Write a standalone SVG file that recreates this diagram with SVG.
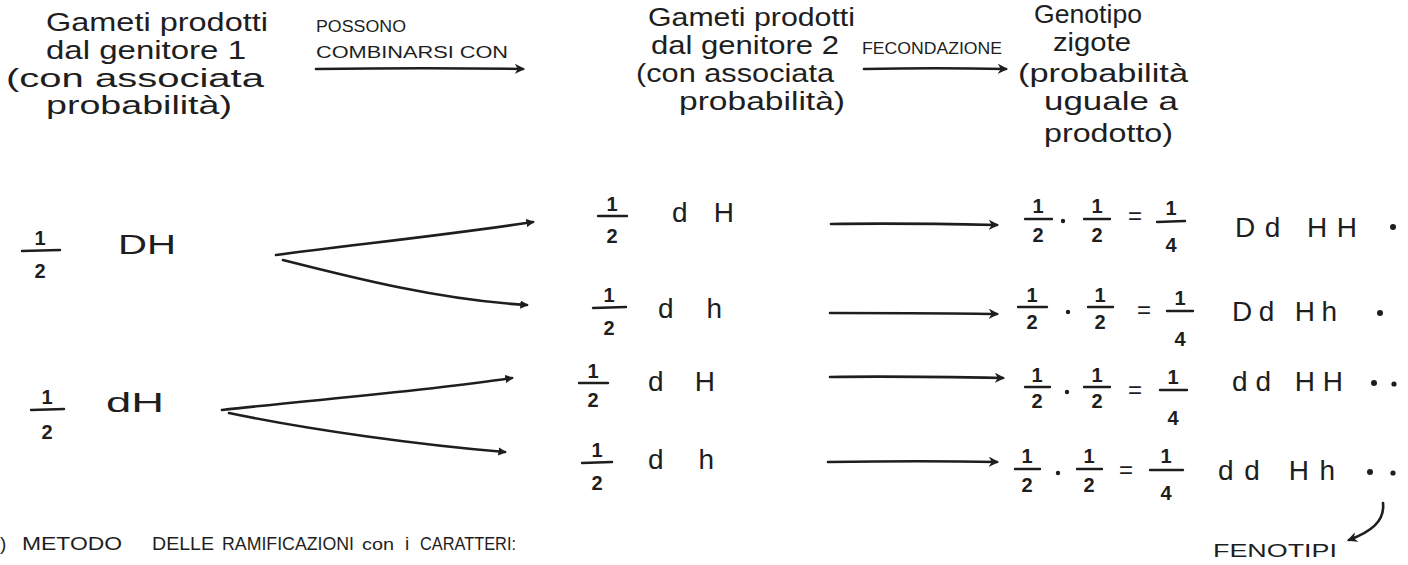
<svg xmlns="http://www.w3.org/2000/svg" width="1408" height="565" viewBox="0 0 1408 565">
<defs>
<style>
.t{font-family:"Liberation Sans",Arial,sans-serif;fill:#1e1e1e}
.h{font-size:25px}
.c{font-size:16px}
.g{font-size:28px}
.f{font-size:19px}
.n{font-size:20px;text-anchor:middle;font-weight:bold}
.eq{font-size:24px;text-anchor:middle}
.bar{stroke:#1e1e1e;stroke-width:2.4;stroke-linecap:round}
.con{fill:none;stroke:#1e1e1e;stroke-width:2.6;stroke-linecap:round}
</style>
<marker id="ah" viewBox="0 0 10 10" refX="8" refY="5" markerWidth="4" markerHeight="4" orient="auto" markerUnits="strokeWidth">
<path d="M0,0 L10,5 L0,10 L3,5 Z" fill="#1e1e1e"/>
</marker>
<marker id="tip" viewBox="0 0 10 10" refX="8" refY="5" markerWidth="3.2" markerHeight="3.2" orient="auto" markerUnits="strokeWidth">
<path d="M0,0 L10,5 L0,10 Z" fill="#1e1e1e"/>
</marker>
</defs>
<rect width="1408" height="565" fill="#ffffff"/>

<g id="header-genitore1" class="t h">
<text x="46" y="31" textLength="222" lengthAdjust="spacingAndGlyphs">Gameti prodotti</text>
<text x="46" y="59" textLength="200" lengthAdjust="spacingAndGlyphs">dal genitore 1</text>
<text x="6" y="87" textLength="258" lengthAdjust="spacingAndGlyphs">(con associata</text>
<text x="46" y="114" textLength="186" lengthAdjust="spacingAndGlyphs">probabilità)</text>
</g>

<g id="label-combinarsi" class="t c">
<text x="316" y="32" textLength="90" lengthAdjust="spacingAndGlyphs">POSSONO</text>
<text x="316" y="58" textLength="192" lengthAdjust="spacingAndGlyphs">COMBINARSI CON</text>
</g>

<g id="header-genitore2" class="t h">
<text x="648" y="26" textLength="207" lengthAdjust="spacingAndGlyphs">Gameti prodotti</text>
<text x="651" y="54" textLength="188" lengthAdjust="spacingAndGlyphs">dal genitore 2</text>
<text x="636" y="82" textLength="198" lengthAdjust="spacingAndGlyphs">(con associata</text>
<text x="679" y="110" textLength="166" lengthAdjust="spacingAndGlyphs">probabilità)</text>
</g>

<g id="label-fecondazione" class="t c">
<text x="862" y="54" textLength="140" lengthAdjust="spacingAndGlyphs">FECONDAZIONE</text>
</g>

<g id="header-zigote" class="t h">
<text x="1034" y="23" textLength="108" lengthAdjust="spacingAndGlyphs">Genotipo</text>
<text x="1053" y="51" textLength="78" lengthAdjust="spacingAndGlyphs">zigote</text>
<text x="1018" y="82" textLength="170" lengthAdjust="spacingAndGlyphs">(probabilità</text>
<text x="1044" y="110" textLength="134" lengthAdjust="spacingAndGlyphs">uguale a</text>
<text x="1044" y="142" textLength="129" lengthAdjust="spacingAndGlyphs">prodotto)</text>
</g>

<g id="gamete1-DH">
<text class="t n" x="40" y="245">1</text><line class="bar" x1="22" y1="251" x2="60" y2="250"/><text class="t n" x="40" y="278">2</text>
<text class="t g" x="118" y="254" textLength="58" lengthAdjust="spacingAndGlyphs">DH</text>
</g>
<g id="gamete1-dH">
<text class="t n" x="47" y="404">1</text><line class="bar" x1="31" y1="410" x2="64" y2="409"/><text class="t n" x="47" y="439">2</text>
<text class="t g" x="106" y="412" textLength="58" lengthAdjust="spacingAndGlyphs">dH</text>
</g>

<g id="gamete2-row1">
<text class="t n" x="612" y="211">1</text><line class="bar" x1="598" y1="216" x2="627" y2="216"/><text class="t n" x="612" y="243">2</text>
<text class="t g" x="672" y="222" textLength="62">d H</text>
</g>
<g id="gamete2-row2">
<text class="t n" x="609" y="302">1</text><line class="bar" x1="593" y1="308" x2="626" y2="307"/><text class="t n" x="609" y="335">2</text>
<text class="t g" x="658" y="318" textLength="64">d h</text>
</g>
<g id="gamete2-row3">
<text class="t n" x="593" y="378">1</text><line class="bar" x1="579" y1="383" x2="608" y2="383"/><text class="t n" x="593" y="407">2</text>
<text class="t g" x="648" y="391" textLength="67">d H</text>
</g>
<g id="gamete2-row4">
<text class="t n" x="597" y="457">1</text><line class="bar" x1="582" y1="463" x2="612" y2="462"/><text class="t n" x="597" y="490">2</text>
<text class="t g" x="648" y="469" textLength="66">d h</text>
</g>

<g id="zigote-row1">
<text class="t n" x="1038" y="213">1</text><line class="bar" x1="1025" y1="219" x2="1052" y2="219"/><text class="t n" x="1038" y="242">2</text>
<circle cx="1063" cy="221" r="2.2" fill="#1e1e1e"/>
<text class="t n" x="1097" y="213">1</text><line class="bar" x1="1084" y1="219" x2="1110" y2="219"/><text class="t n" x="1097" y="242">2</text>
<text class="t eq" x="1135" y="224">=</text>
<text class="t n" x="1171" y="215">1</text><line class="bar" x1="1157" y1="222" x2="1185" y2="221"/><text class="t n" x="1171" y="252">4</text>
<text class="t g" x="1235" y="237" textLength="122">Dd HH</text>
<circle cx="1393" cy="227" r="3" fill="#1e1e1e"/>
</g>
<g id="zigote-row2">
<text class="t n" x="1032" y="302">1</text><line class="bar" x1="1018" y1="307" x2="1047" y2="307"/><text class="t n" x="1032" y="329">2</text>
<circle cx="1068" cy="312" r="2.2" fill="#1e1e1e"/>
<text class="t n" x="1100" y="302">1</text><line class="bar" x1="1088" y1="307" x2="1113" y2="307"/><text class="t n" x="1100" y="329">2</text>
<text class="t eq" x="1144" y="318">=</text>
<text class="t n" x="1180" y="305">1</text><line class="bar" x1="1167" y1="311" x2="1193" y2="311"/><text class="t n" x="1180" y="346">4</text>
<text class="t g" x="1232" y="321" textLength="105">Dd Hh</text>
<circle cx="1380" cy="313" r="3" fill="#1e1e1e"/>
</g>
<g id="zigote-row3">
<text class="t n" x="1037" y="382">1</text><line class="bar" x1="1025" y1="387" x2="1050" y2="387"/><text class="t n" x="1037" y="408">2</text>
<circle cx="1067" cy="392" r="2.2" fill="#1e1e1e"/>
<text class="t n" x="1097" y="382">1</text><line class="bar" x1="1084" y1="387" x2="1110" y2="387"/><text class="t n" x="1097" y="408">2</text>
<text class="t eq" x="1135" y="398">=</text>
<text class="t n" x="1173" y="384">1</text><line class="bar" x1="1160" y1="390" x2="1187" y2="390"/><text class="t n" x="1173" y="425">4</text>
<text class="t g" x="1232" y="391" textLength="111">dd HH</text>
<circle cx="1374" cy="383" r="3" fill="#1e1e1e"/><circle cx="1394" cy="384" r="2.6" fill="#1e1e1e"/>
</g>
<g id="zigote-row4">
<text class="t n" x="1027" y="463">1</text><line class="bar" x1="1015" y1="469" x2="1040" y2="469"/><text class="t n" x="1027" y="492">2</text>
<circle cx="1058" cy="473" r="2.2" fill="#1e1e1e"/>
<text class="t n" x="1089" y="463">1</text><line class="bar" x1="1077" y1="469" x2="1102" y2="469"/><text class="t n" x="1089" y="492">2</text>
<text class="t eq" x="1126" y="478">=</text>
<text class="t n" x="1166" y="463">1</text><line class="bar" x1="1150" y1="470" x2="1183" y2="470"/><text class="t n" x="1166" y="500">4</text>
<text class="t g" x="1218" y="480" textLength="117">dd Hh</text>
<circle cx="1370" cy="472" r="3" fill="#1e1e1e"/><circle cx="1393" cy="473" r="2.6" fill="#1e1e1e"/>
</g>

<g id="label-fenotipi" class="t">
<text x="1213" y="557" font-size="18" textLength="124" lengthAdjust="spacingAndGlyphs">FENOTIPI</text>
</g>

<g id="footer" class="t f">
<text x="0" y="550">)</text>
<text x="22" y="550" textLength="100" lengthAdjust="spacingAndGlyphs">METODO</text>
<text x="152" y="550" textLength="62" lengthAdjust="spacingAndGlyphs">DELLE</text>
<text x="222" y="550" textLength="132" lengthAdjust="spacingAndGlyphs">RAMIFICAZIONI</text>
<text x="362" y="550" font-size="16" textLength="32" lengthAdjust="spacingAndGlyphs">con</text>
<text x="405" y="550">i</text>
<text x="420" y="550" textLength="96" lengthAdjust="spacingAndGlyphs">CARATTERI:</text>
</g>

<g id="connectors">
<path class="con" d="M316,69 C390,68 460,68 523,69" marker-end="url(#ah)"/>
<path class="con" d="M864,69 C910,68 960,68 1006,69" marker-end="url(#ah)"/>
<path class="con" d="M276,255 C350,245 440,236 533,222" marker-end="url(#tip)"/>
<path class="con" d="M283,260 C350,277 440,300 527,305" marker-end="url(#tip)"/>
<path class="con" d="M222,410 C310,400 420,392 512,378" marker-end="url(#tip)"/>
<path class="con" d="M229,413 C310,430 420,445 505,452" marker-end="url(#tip)"/>
<path class="con" d="M831,224 C890,223 950,224 997,225" marker-end="url(#ah)"/>
<path class="con" d="M830,313 C890,313 950,313 997,314" marker-end="url(#ah)"/>
<path class="con" d="M830,377 C890,376 950,377 1003,378" marker-end="url(#ah)"/>
<path class="con" d="M828,462 C890,461 950,461 997,462" marker-end="url(#ah)"/>
<path class="con" d="M1383,503 C1385,522 1370,532 1349,540" marker-end="url(#ah)"/>
</g>
</svg>
